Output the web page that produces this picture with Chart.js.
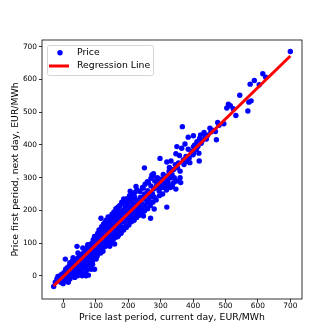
<!DOCTYPE html>
<html>
<head>
<meta charset="utf-8">
<script src="https://cdn.jsdelivr.net/npm/chart.js@4.4.1/dist/chart.umd.min.js"></script>
<style>
  html, body { margin: 0; padding: 0; background: #fff; }
</style>
</head>
<body>
<canvas id="priceChart" width="336" height="336"></canvas>
<script>
// [price last period current day, price first period next day], EUR/MWh
const pricePoints = [
    [-30,-33],[-25,-20],[-20,-10],[-17,-2],[-12,-15],[-10,0],[-8,-20],[-5,5],[-3,-10],[-1,-24],
    [0,-8],[2,10],[3,-15],[5,0],[6,51],[7,20],[8,-5],[10,12],[10,-12],[12,25],
    [14,5],[15,-5],[16,18],[18,30],[20,8],[20,-10],[22,15],[24,35],[25,0],[26,20],
    [28,45],[30,10],[30,28],[32,-2],[34,40],[35,18],[36,5],[38,30],[40,50],[40,15],
    [42,90],[42,35],[44,0],[45,25],[46,55],[48,40],[48,10],[50,30],[50,60],[52,45],
    [54,15],[55,35],[56,65],[58,50],[58,0],[60,40],[60,25],[62,70],[63,55],[64,5],
    [65,45],[66,30],[68,75],[68,60],[70,50],[70,0],[72,35],[72,85],[74,65],[75,20],
    [76,55],[77,2],[78,80],[78,40],[80,95],[80,68],[82,55],[82,25],[84,85],[85,70],
    [86,20],[88,100],[88,60],[90,80],[90,45],[92,110],[92,70],[94,90],[95,55],[96,20],
    [96,120],[98,85],[100,100],[100,70],[101,51],[102,115],[104,95],[104,60],[106,130],[106,80],
    [108,105],[110,90],[110,125],[112,70],[112,140],[114,110],[115,95],[116,176],[116,80],[118,130],
    [120,115],[120,150],[122,100],[122,75],[124,135],[125,120],[126,160],[128,105],[128,90],[130,145],
    [130,125],[132,170],[132,110],[134,140],[135,95],[136,155],[138,125],[138,180],[140,110],[140,145],
    [142,165],[143,90],[144,130],[145,150],[146,175],[148,120],[148,160],[150,140],[150,100],[152,180],
    [154,150],[155,125],[156,170],[158,97],[158,140],[160,190],[160,160],[162,130],[164,175],[165,150],
    [166,200],[168,120],[168,165],[170,185],[170,140],[172,210],[174,160],[175,130],[176,195],[178,170],
    [178,150],[180,225],[180,180],[182,140],[184,200],[185,165],[186,235],[188,185],[190,150],[190,210],
    [192,175],[194,225],[195,195],[196,160],[198,215],[200,185],[200,230],[202,200],[204,170],[205,240],
    [206,259],[208,210],[210,190],[210,225],[212,180],[214,235],[215,205],[216,195],[218,220],[220,185],
    [220,240],[222,210],[224,273],[225,195],[226,260],[228,230],[230,215],[232,200],[235,225],[236,190],
    [238,240],[240,210],[242,220],[245,200],[246,268],[247,183],[248,235],[250,330],[250,250],[252,215],
    [255,245],[258,225],[259,288],[260,260],[262,230],[265,255],[268,240],[269,176],[270,275],[273,308],
    [275,250],[278,312],[278,265],[280,240],[280,204],[282,290],[285,270],[288,278],[290,300],[293,288],
    [295,260],[298,268],[298,359],[300,295],[302,280],[305,286],[308,310],[310,270],[312,300],[315,285],
    [316,273],[319,348],[319,210],[320,305],[322,290],[324,281],[326,320],[327,331],[330,300],[332,351],
    [335,310],[336,273],[340,325],[342,300],[345,340],[347,265],[347,373],[350,395],[352,330],[355,345],
    [358,368],[360,320],[362,285],[365,390],[367,456],[370,355],[372,340],[375,403],[378,365],[380,350],
    [385,424],[385,387],[388,360],[390,346],[395,380],[400,370],[401,428],[401,395],[401,375],[405,400],
    [410,387],[412,410],[415,395],[418,375],[419,351],[420,420],[423,431],[425,405],[430,415],[434,438],
    [438,425],[441,418],[445,430],[452,451],[455,440],[460,445],[469,441],[472,416],[476,469],[480,460],
    [495,465],[504,513],[509,525],[515,520],[524,511],[532,490],[544,552],[569,504],[572,531],[579,535],
    [576,586],[589,597],[604,584],[615,618],[624,607],[700,686],
    // upper edge of the dense band
    [105,125],[110,140],[118,150],[124,158],[130,165],[136,172],[144,180],[150,188],[156,195],[162,205],
    [168,210],[174,215],[182,222],[188,228],[196,236],[204,245],[212,250],[220,255],[228,262],[236,258],
    [244,270],[252,280],[262,285],[270,298],[276,305],
    // lower edge of the dense band
    [108,75],[115,70],[122,85],[130,90],[138,100],[146,105],[154,112],[162,118],[170,125],[178,130],
    [186,140],[194,148],[202,155],[210,165],[218,170],[226,178],[234,185],[242,190],[250,198],[260,205],
    [268,215],[276,225],[286,232],[296,245],[306,250],[318,262],[330,270],[340,285],[350,290],[360,300],
    // filling the middle
    [145,140],[155,155],[165,160],[175,170],[185,180],[195,190],[205,200],[215,210],[225,220],[235,230],
    [245,240],[255,248],[262,255],
    [20,40],[30,55],[45,70],[60,85],[75,95],[15,-20],[35,-5],[55,10],[70,15],[85,30],[90,35]
];

// fitted regression line end points
const regressionX = [-30, 700];
const regressionY = [-31, 672];

const xTicks = [0, 100, 200, 300, 400, 500, 600, 700];
const yTicks = [0, 100, 200, 300, 400, 500, 600, 700];

const fontFamily = "'DejaVu Sans', sans-serif";

// frame round the plot and the legend box inside it, like matplotlib draws them
const frameAndLegend = {
    id: 'frameAndLegend',
    afterDraw(chart) {
        const ctx = chart.ctx;
        const area = chart.chartArea;
        ctx.save();

        ctx.strokeStyle = '#000';
        ctx.lineWidth = 0.8;
        ctx.strokeRect(area.left, area.top, area.right - area.left, area.bottom - area.top);

        const bx = area.left + 5, by = area.top + 5, bw = 106, bh = 30;
        ctx.beginPath();
        ctx.roundRect(bx + 0.5, by + 0.5, bw, bh, 2);
        ctx.fillStyle = 'rgba(255,255,255,0.8)';
        ctx.fill();
        ctx.strokeStyle = '#d5d5d5';
        ctx.lineWidth = 1;
        ctx.stroke();

        const sets = chart.data.datasets;
        const scatterSet = sets.find(d => d.type === 'scatter');
        const lineSet = sets.find(d => d.type === 'line');

        ctx.font = '9.3px ' + fontFamily;
        ctx.textBaseline = 'middle';

        // Price marker
        ctx.beginPath();
        ctx.arc(bx + 13, by + 7.7, 2.7, 0, Math.PI * 2);
        ctx.fillStyle = scatterSet.backgroundColor;
        ctx.fill();
        ctx.fillStyle = '#000';
        ctx.fillText(scatterSet.label, bx + 30, by + 7.7);

        // Regression line sample
        ctx.beginPath();
        ctx.moveTo(bx + 2, by + 21);
        ctx.lineTo(bx + 22, by + 21);
        ctx.strokeStyle = lineSet.borderColor;
        ctx.lineWidth = 3;
        ctx.stroke();
        ctx.fillText(lineSet.label, bx + 30, by + 21);

        ctx.restore();
    }
};

document.addEventListener('DOMContentLoaded', function() {
    const ctx = document.getElementById('priceChart').getContext('2d');

    new Chart(ctx, {
        data: {
            datasets: [
                {
                    type: 'line',
                    label: 'Regression Line',
                    data: regressionX.map((x, i) => ({ x: x, y: regressionY[i] })),
                    borderColor: '#ff0000',
                    borderWidth: 3,
                    pointRadius: 0,
                    fill: false,
                    order: 0
                },
                {
                    type: 'scatter',
                    label: 'Price',
                    data: pricePoints.map(p => ({ x: p[0], y: p[1] })),
                    backgroundColor: '#0000ff',
                    borderWidth: 0,
                    pointRadius: 2.7,
                    order: 1
                }
            ]
        },
        options: {
            responsive: false,
            animation: false,
            layout: { padding: { top: 40, right: 34, left: 0, bottom: 0 } },
            plugins: {
                legend: { display: false },
                tooltip: { enabled: false }
            },
            scales: {
                x: {
                    type: 'linear',
                    min: -66,
                    max: 736,
                    afterFit: s => { s.height = 37; },
                    afterBuildTicks: s => { s.ticks = xTicks.map(v => ({ value: v })); },
                    border: { display: false },
                    grid: { drawOnChartArea: false, drawTicks: true, tickLength: 3, color: '#000', lineWidth: 0.8 },
                    ticks: { padding: 0, maxRotation: 0, color: '#000', font: { family: fontFamily, size: 7.4 } },
                    title: {
                        display: true,
                        text: 'Price last period, current day, EUR/MWh',
                        color: '#000',
                        font: { family: fontFamily, size: 9.3 },
                        padding: { top: 0, bottom: 12.9 }
                    }
                },
                y: {
                    type: 'linear',
                    min: -71,
                    max: 721,
                    afterFit: s => { s.width = 42; },
                    afterBuildTicks: s => { s.ticks = yTicks.map(v => ({ value: v })); },
                    border: { display: false },
                    grid: { drawOnChartArea: false, drawTicks: true, tickLength: 3, color: '#000', lineWidth: 0.8 },
                    ticks: { padding: 2, color: '#000', font: { family: fontFamily, size: 7.4 } },
                    title: {
                        display: true,
                        text: 'Price first period, next day, EUR/MWh',
                        color: '#000',
                        font: { family: fontFamily, size: 9.3 },
                        padding: { top: 10.4, bottom: 0 }
                    }
                }
            }
        },
        plugins: [frameAndLegend]
    });
});
</script>
</body>
</html>
